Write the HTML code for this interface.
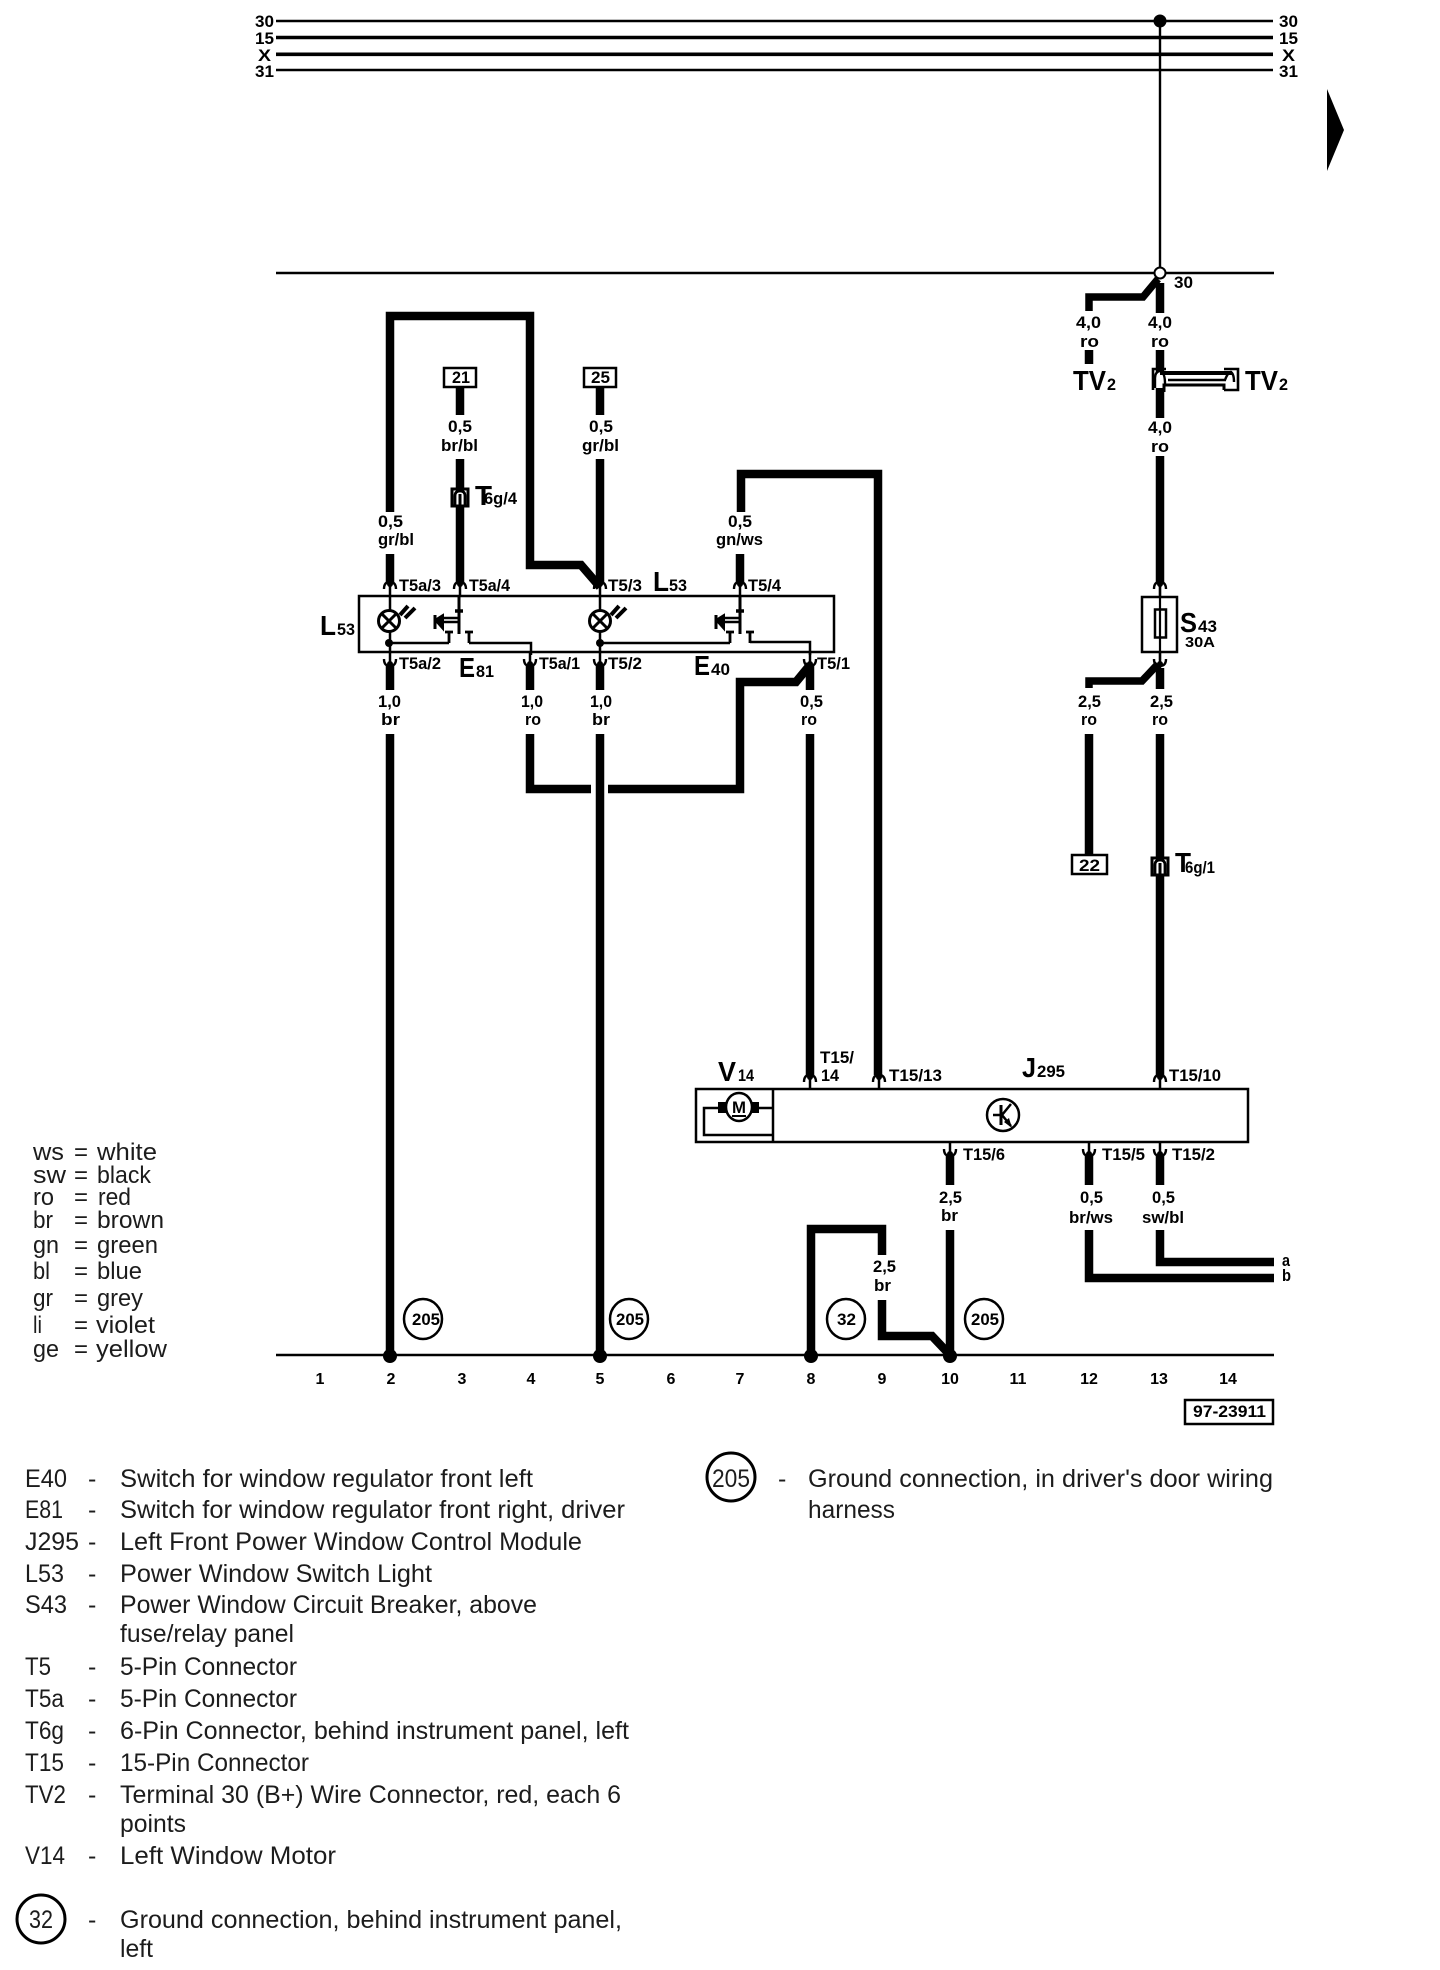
<!DOCTYPE html>
<html><head><meta charset="utf-8"><title>Wiring diagram</title>
<style>
html,body{margin:0;padding:0;background:#fff}
svg{display:block}
text{font-family:"Liberation Sans",sans-serif;fill:#000}
.b{font-weight:bold;font-size:17px}
.s{font-weight:bold;font-size:17px}
.L{font-weight:bold;font-size:28px}
.r{font-size:25px}
.r text,.k text{fill:#1c1c1c}
.k{font-size:24px}
.w{fill:none;stroke:#000;stroke-width:8.5;stroke-linejoin:miter}
.t{fill:none;stroke:#000;stroke-width:2.5}
</style></head><body>
<svg xmlns="http://www.w3.org/2000/svg" width="1440" height="1970" viewBox="0 0 1440 1970">
<defs>
<g id="fu"><path d="M-6,8Q-6,1 0,1Q6,1 6,8" fill="none" stroke="#000" stroke-width="2.4"/><path d="M0,-1V15" stroke="#000" stroke-width="2.5"/><circle cx="0" cy="3" r="3"/></g>
<g id="fd"><path d="M-6,-8Q-6,-1 0,-1Q6,-1 6,-8" fill="none" stroke="#000" stroke-width="2.4"/><path d="M0,1V-15" stroke="#000" stroke-width="2.5"/><circle cx="0" cy="-3" r="3"/></g>
<g id="lamp"><ellipse cx="0" cy="0" rx="10.5" ry="10.5" fill="#fff" stroke="#000" stroke-width="3"/><path d="M-7,-7L7,7M7,-7L-7,7" stroke="#000" stroke-width="3"/><path d="M11,-6L19,-15M16,-3L26,-13" stroke="#000" stroke-width="4"/></g>
<g id="sw"><path d="M0,-26V12" stroke="#000" stroke-width="3"/><path d="M-4,-11H4" stroke="#000" stroke-width="3.5"/><path d="M0,-4H-16M0,0H-16" stroke="#000" stroke-width="2.4"/><path d="M-16,-7L-24,-2L-16,7Z" stroke="#000" stroke-width="2"/><path d="M-24,-7V7" stroke="#000" stroke-width="3"/><path d="M-14,10H-6M-10,10V21M6,10H14M10,10V21" stroke="#000" stroke-width="2.8" fill="none"/></g>
<g id="tc"><rect x="-8" y="-8" width="16" height="17" fill="#fff" stroke="#000" stroke-width="3"/><path d="M-5,8V-1Q-5,-6 0,-6Q5,-6 5,-1V8" fill="none" stroke="#000" stroke-width="2.8"/><path d="M0,-3V8" stroke="#000" stroke-width="3"/></g>
</defs>

<!-- bus lines -->
<path d="M276,21H1273M276,70H1273" stroke="#000" stroke-width="2.6"/>
<path d="M276,37.5H1273M276,54.3H1273" stroke="#000" stroke-width="3.6"/>
<path d="M1160,21V273" stroke="#000" stroke-width="2.4"/>
<circle cx="1160" cy="21" r="6.5"/>
<path d="M276,273H1274" stroke="#000" stroke-width="2.5"/>
<path d="M276,1355H1274" stroke="#000" stroke-width="2.5"/>
<path d="M1327,89L1344,130L1327,171Z"/>

<text class="b" x="255" y="27" textLength="19" lengthAdjust="spacingAndGlyphs">30</text>
<text class="b" x="255" y="44" textLength="19" lengthAdjust="spacingAndGlyphs">15</text>
<text class="b" x="258" y="61" textLength="13" lengthAdjust="spacingAndGlyphs">X</text>
<text class="b" x="255" y="77" textLength="19" lengthAdjust="spacingAndGlyphs">31</text>
<text class="b" x="1279" y="27" textLength="19" lengthAdjust="spacingAndGlyphs">30</text>
<text class="b" x="1279" y="44" textLength="19" lengthAdjust="spacingAndGlyphs">15</text>
<text class="b" x="1282" y="61" textLength="13" lengthAdjust="spacingAndGlyphs">X</text>
<text class="b" x="1279" y="77" textLength="19" lengthAdjust="spacingAndGlyphs">31</text>
<text class="b" x="1174" y="288" textLength="19" lengthAdjust="spacingAndGlyphs">30</text>

<!-- wires -->
<path class="w" d="M390,554V582"/>
<path class="w" d="M390,512V316H530V565H581L600,587"/>
<path class="w" d="M460,387V415M460,459V582"/>
<path class="w" d="M600,387V415M600,459V582"/>
<path class="w" d="M740,554V582"/>
<path class="w" d="M741,512V474H878V1075"/>
<path class="w" style="stroke-width:7.5" d="M1089,311V297H1143L1158,279"/>
<path class="w" d="M1160,283V313M1160,350V372M1160,388V418M1160,456V583"/>
<path class="w" d="M1089,350V364"/>
<path class="w" d="M390,666V690M390,734V1355"/>
<path class="w" d="M530,666V690"/>
<path class="w" d="M530,734V789H591"/>
<path class="w" d="M608,789H740V682H796L810,665"/>
<path class="w" d="M600,666V690M600,734V1355"/>
<path class="w" d="M810,664V690M810,734V1075"/>
<path class="w" d="M1160,668V689M1160,734V1075"/>
<path class="w" style="stroke-width:7.5" d="M1089,688V681H1142L1158,664"/>
<path class="w" d="M1089,734V854"/>
<path class="w" d="M950,1155V1185M950,1230V1355"/>
<path class="w" d="M1089,1155V1185M1089,1230V1278H1274"/>
<path class="w" d="M1160,1155V1185M1160,1230V1262H1274"/>
<path class="w" d="M811,1355V1229H882V1255M882,1300V1336H932L950,1355"/>
<circle cx="390" cy="1356" r="7"/><circle cx="600" cy="1356" r="7"/><circle cx="811" cy="1356" r="7"/><circle cx="950" cy="1356" r="7"/>
<circle cx="1160" cy="273" r="5.5" fill="#fff" stroke="#000" stroke-width="2"/>

<!-- numbered boxes -->
<rect x="444" y="368" width="32" height="19" class="t" fill="#fff"/>
<rect x="584" y="368" width="32" height="19" class="t" fill="#fff"/>
<rect x="1072" y="855" width="35" height="19" class="t" fill="#fff"/>
<text class="b" x="452" y="383" textLength="18" lengthAdjust="spacingAndGlyphs">21</text>
<text class="b" x="591" y="383" textLength="19" lengthAdjust="spacingAndGlyphs">25</text>
<text class="b" x="1079" y="871" textLength="21" lengthAdjust="spacingAndGlyphs">22</text>

<!-- wire labels -->
<text class="s" x="378" y="527" textLength="25" lengthAdjust="spacingAndGlyphs">0,5</text>
<text class="s" x="378" y="545" textLength="36" lengthAdjust="spacingAndGlyphs">gr/bl</text>
<text class="s" x="448" y="432" textLength="24" lengthAdjust="spacingAndGlyphs">0,5</text>
<text class="s" x="441" y="451" textLength="37" lengthAdjust="spacingAndGlyphs">br/bl</text>
<text class="s" x="589" y="432" textLength="24" lengthAdjust="spacingAndGlyphs">0,5</text>
<text class="s" x="582" y="451" textLength="37" lengthAdjust="spacingAndGlyphs">gr/bl</text>
<text class="s" x="728" y="527" textLength="24" lengthAdjust="spacingAndGlyphs">0,5</text>
<text class="s" x="716" y="545" textLength="47" lengthAdjust="spacingAndGlyphs">gn/ws</text>
<text class="s" x="1076" y="328" textLength="25" lengthAdjust="spacingAndGlyphs">4,0</text>
<text class="s" x="1080" y="347" textLength="19" lengthAdjust="spacingAndGlyphs">ro</text>
<text class="s" x="1148" y="328" textLength="24" lengthAdjust="spacingAndGlyphs">4,0</text>
<text class="s" x="1151" y="347" textLength="18" lengthAdjust="spacingAndGlyphs">ro</text>
<text class="s" x="1148" y="433" textLength="24" lengthAdjust="spacingAndGlyphs">4,0</text>
<text class="s" x="1151" y="452" textLength="18" lengthAdjust="spacingAndGlyphs">ro</text>
<text class="s" x="378" y="707" textLength="23" lengthAdjust="spacingAndGlyphs">1,0</text>
<text class="s" x="381" y="725" textLength="19" lengthAdjust="spacingAndGlyphs">br</text>
<text class="s" x="521" y="707" textLength="22" lengthAdjust="spacingAndGlyphs">1,0</text>
<text class="s" x="525" y="725" textLength="16" lengthAdjust="spacingAndGlyphs">ro</text>
<text class="s" x="590" y="707" textLength="22" lengthAdjust="spacingAndGlyphs">1,0</text>
<text class="s" x="592" y="725" textLength="18" lengthAdjust="spacingAndGlyphs">br</text>
<text class="s" x="800" y="707" textLength="23" lengthAdjust="spacingAndGlyphs">0,5</text>
<text class="s" x="801" y="725" textLength="16" lengthAdjust="spacingAndGlyphs">ro</text>
<text class="s" x="1078" y="707" textLength="23" lengthAdjust="spacingAndGlyphs">2,5</text>
<text class="s" x="1081" y="725" textLength="16" lengthAdjust="spacingAndGlyphs">ro</text>
<text class="s" x="1150" y="707" textLength="23" lengthAdjust="spacingAndGlyphs">2,5</text>
<text class="s" x="1152" y="725" textLength="16" lengthAdjust="spacingAndGlyphs">ro</text>
<text class="s" x="939" y="1203" textLength="23" lengthAdjust="spacingAndGlyphs">2,5</text>
<text class="s" x="941" y="1221" textLength="17" lengthAdjust="spacingAndGlyphs">br</text>
<text class="s" x="1080" y="1203" textLength="23" lengthAdjust="spacingAndGlyphs">0,5</text>
<text class="s" x="1069" y="1223" textLength="44" lengthAdjust="spacingAndGlyphs">br/ws</text>
<text class="s" x="1152" y="1203" textLength="23" lengthAdjust="spacingAndGlyphs">0,5</text>
<text class="s" x="1142" y="1223" textLength="42" lengthAdjust="spacingAndGlyphs">sw/bl</text>
<text class="s" x="873" y="1272" textLength="23" lengthAdjust="spacingAndGlyphs">2,5</text>
<text class="s" x="874" y="1291" textLength="17" lengthAdjust="spacingAndGlyphs">br</text>
<text class="s" x="1282" y="1266" textLength="8" lengthAdjust="spacingAndGlyphs">a</text>
<text class="s" x="1282" y="1281" textLength="9" lengthAdjust="spacingAndGlyphs">b</text>

<!-- L53 switch box -->
<rect x="359" y="596" width="475" height="56" class="t"/>
<use href="#fu" x="390" y="581"/><use href="#fu" x="460" y="581"/><use href="#fu" x="600" y="581"/><use href="#fu" x="740" y="581"/>
<use href="#fd" x="390" y="667"/><use href="#fd" x="530" y="667"/><use href="#fd" x="600" y="667"/><use href="#fd" x="810" y="667"/>
<path d="M390,596V652M600,596V652" stroke="#000" stroke-width="2.5"/>
<use href="#lamp" x="389" y="621"/><use href="#lamp" x="600" y="621"/>
<use href="#sw" x="459" y="622"/><use href="#sw" x="740" y="622"/>
<path class="t" d="M389,643H449M469,643H531V655M600,643H730M750,642H810V655"/>
<circle cx="389" cy="643" r="4"/><circle cx="600" cy="643" r="4"/>

<text class="b" x="399" y="591" textLength="42" lengthAdjust="spacingAndGlyphs">T5a/3</text>
<text class="b" x="469" y="591" textLength="41" lengthAdjust="spacingAndGlyphs">T5a/4</text>
<text class="b" x="608" y="591" textLength="34" lengthAdjust="spacingAndGlyphs">T5/3</text>
<text class="b" x="748" y="591" textLength="33" lengthAdjust="spacingAndGlyphs">T5/4</text>
<text class="b" x="399" y="669" textLength="42" lengthAdjust="spacingAndGlyphs">T5a/2</text>
<text class="b" x="539" y="669" textLength="41" lengthAdjust="spacingAndGlyphs">T5a/1</text>
<text class="b" x="608" y="669" textLength="34" lengthAdjust="spacingAndGlyphs">T5/2</text>
<text class="b" x="817" y="669" textLength="33" lengthAdjust="spacingAndGlyphs">T5/1</text>

<text class="L" x="653" y="591" textLength="16" lengthAdjust="spacingAndGlyphs">L</text>
<text class="b" x="669" y="591" textLength="18" lengthAdjust="spacingAndGlyphs">53</text>
<text class="L" x="320" y="635" textLength="16" lengthAdjust="spacingAndGlyphs">L</text>
<text class="b" x="337" y="635" textLength="18" lengthAdjust="spacingAndGlyphs">53</text>
<text class="L" x="459" y="677" textLength="16" lengthAdjust="spacingAndGlyphs">E</text>
<text class="b" x="476" y="677" textLength="18" lengthAdjust="spacingAndGlyphs">81</text>
<text class="L" x="694" y="675" textLength="16" lengthAdjust="spacingAndGlyphs">E</text>
<text class="b" x="711" y="675" textLength="19" lengthAdjust="spacingAndGlyphs">40</text>

<!-- T6g -->
<use href="#tc" x="460" y="497"/>
<text class="L" x="475" y="505" textLength="17" lengthAdjust="spacingAndGlyphs">T</text>
<text class="b" x="484" y="504" textLength="33" lengthAdjust="spacingAndGlyphs">6g/4</text>
<use href="#tc" x="1160" y="866"/>
<text class="L" x="1175" y="872" textLength="16" lengthAdjust="spacingAndGlyphs">T</text>
<text class="b" x="1185" y="873" textLength="30" lengthAdjust="spacingAndGlyphs">6g/1</text>

<!-- TV2 -->
<path d="M1153,390V369H1166M1224,369H1238V390H1224" fill="none" stroke="#000" stroke-width="2.6"/>
<path d="M1160,373H1232" stroke="#000" stroke-width="4"/>
<path d="M1168,380H1226" stroke="#000" stroke-width="2.6"/>
<path d="M1164,392V385H1224V390" fill="none" stroke="#000" stroke-width="3"/>
<path d="M1155,388V378Q1155,372 1160,371Q1165,372 1165,384" fill="none" stroke="#000" stroke-width="2.4"/>
<path d="M1225,380Q1228,372 1231,372Q1234,374 1234,382" fill="none" stroke="#000" stroke-width="2.4"/>
<text class="L" x="1073" y="390" textLength="33" lengthAdjust="spacingAndGlyphs">TV</text>
<text class="b" x="1107" y="390" textLength="9" lengthAdjust="spacingAndGlyphs">2</text>
<text class="L" x="1245" y="390" textLength="33" lengthAdjust="spacingAndGlyphs">TV</text>
<text class="b" x="1279" y="390" textLength="9" lengthAdjust="spacingAndGlyphs">2</text>

<!-- S43 -->
<rect x="1142" y="597" width="35" height="55" class="t"/>
<use href="#fu" x="1160" y="581"/><use href="#fd" x="1160" y="667"/>
<path d="M1160,587V660" stroke="#000" stroke-width="2.2"/>
<rect x="1155" y="609.5" width="11" height="28" class="t" fill="#fff"/>
<path d="M1160,610V637" stroke="#000" stroke-width="1"/>
<text class="L" x="1180" y="632" textLength="17" lengthAdjust="spacingAndGlyphs">S</text>
<text class="b" x="1198" y="632" textLength="19" lengthAdjust="spacingAndGlyphs">43</text>
<text class="b" x="1185" y="647" textLength="30" lengthAdjust="spacingAndGlyphs" style="font-size:15px">30A</text>

<!-- J295 / V14 -->
<rect x="696" y="1089" width="552" height="53" class="t"/>
<path d="M773,1089V1142" stroke="#000" stroke-width="2.5"/>
<use href="#fu" x="810" y="1074"/><use href="#fu" x="879" y="1074"/><use href="#fu" x="1160" y="1074"/>
<use href="#fd" x="950" y="1157"/><use href="#fd" x="1089" y="1157"/><use href="#fd" x="1160" y="1157"/>
<ellipse cx="739" cy="1107" rx="13" ry="14" fill="#fff" stroke="#000" stroke-width="2.5"/>
<rect x="718" y="1102" width="9" height="11"/><rect x="751" y="1102" width="8" height="11"/>
<path class="t" d="M759,1108H773M718,1108H704V1135H773"/>
<path d="M732,1116H746" stroke="#000" stroke-width="2"/>
<text class="b" x="732" y="1113" textLength="14" lengthAdjust="spacingAndGlyphs">M</text>
<ellipse cx="1003" cy="1115" rx="16" ry="16" class="t"/>
<path d="M1001,1105V1125" stroke="#000" stroke-width="3"/>
<path d="M993,1115H1001M1011,1104L1002,1115L1011,1126" fill="none" stroke="#000" stroke-width="2.5"/>
<path d="M1012,1128L1004,1122L1009,1118Z"/>

<text class="L" x="718" y="1081" textLength="18" lengthAdjust="spacingAndGlyphs">V</text>
<text class="b" x="738" y="1081" textLength="16" lengthAdjust="spacingAndGlyphs">14</text>
<text class="L" x="1022" y="1077" textLength="14" lengthAdjust="spacingAndGlyphs">J</text>
<text class="b" x="1037" y="1077" textLength="28" lengthAdjust="spacingAndGlyphs">295</text>
<text class="b" x="820" y="1063" textLength="34" lengthAdjust="spacingAndGlyphs">T15/</text>
<text class="b" x="821" y="1081" textLength="18" lengthAdjust="spacingAndGlyphs">14</text>
<text class="b" x="889" y="1081" textLength="53" lengthAdjust="spacingAndGlyphs">T15/13</text>
<text class="b" x="1169" y="1081" textLength="52" lengthAdjust="spacingAndGlyphs">T15/10</text>
<text class="b" x="963" y="1160" textLength="42" lengthAdjust="spacingAndGlyphs">T15/6</text>
<text class="b" x="1102" y="1160" textLength="43" lengthAdjust="spacingAndGlyphs">T15/5</text>
<text class="b" x="1172" y="1160" textLength="43" lengthAdjust="spacingAndGlyphs">T15/2</text>

<!-- ground circles -->
<ellipse cx="423" cy="1319" rx="19" ry="20" class="t"/><text class="b" x="412" y="1325" textLength="28" lengthAdjust="spacingAndGlyphs">205</text>
<ellipse cx="629" cy="1319" rx="19" ry="20" class="t"/><text class="b" x="616" y="1325" textLength="28" lengthAdjust="spacingAndGlyphs">205</text>
<ellipse cx="846" cy="1319" rx="19" ry="20" class="t"/><text class="b" x="837" y="1325" textLength="19" lengthAdjust="spacingAndGlyphs">32</text>
<ellipse cx="984" cy="1319" rx="19" ry="20" class="t"/><text class="b" x="971" y="1325" textLength="28" lengthAdjust="spacingAndGlyphs">205</text>

<!-- column numbers -->
<g style="font-weight:bold;font-size:16px" text-anchor="middle">
<text x="320" y="1384">1</text><text x="391" y="1384">2</text><text x="462" y="1384">3</text><text x="531" y="1384">4</text><text x="600" y="1384">5</text><text x="671" y="1384">6</text><text x="740" y="1384">7</text><text x="811" y="1384">8</text><text x="882" y="1384">9</text><text x="950" y="1384">10</text><text x="1018" y="1384">11</text><text x="1089" y="1384">12</text><text x="1159" y="1384">13</text><text x="1228" y="1384">14</text>
</g>
<rect x="1185" y="1400" width="88" height="24" class="t"/>
<text class="b" x="1193" y="1417" textLength="73" lengthAdjust="spacingAndGlyphs">97-23911</text>

<!-- colour key -->
<g class="k">
<text x="33" y="1160" textLength="31" lengthAdjust="spacingAndGlyphs">ws</text><text x="74" y="1160">=</text><text x="97" y="1160" textLength="60" lengthAdjust="spacingAndGlyphs">white</text>
<text x="33" y="1183" textLength="33" lengthAdjust="spacingAndGlyphs">sw</text><text x="74" y="1183">=</text><text x="97" y="1183" textLength="54" lengthAdjust="spacingAndGlyphs">black</text>
<text x="33" y="1205" textLength="21" lengthAdjust="spacingAndGlyphs">ro</text><text x="74" y="1205">=</text><text x="98" y="1205" textLength="33" lengthAdjust="spacingAndGlyphs">red</text>
<text x="33" y="1228" textLength="20" lengthAdjust="spacingAndGlyphs">br</text><text x="74" y="1228">=</text><text x="97" y="1228" textLength="67" lengthAdjust="spacingAndGlyphs">brown</text>
<text x="33" y="1253" textLength="26" lengthAdjust="spacingAndGlyphs">gn</text><text x="74" y="1253">=</text><text x="97" y="1253" textLength="61" lengthAdjust="spacingAndGlyphs">green</text>
<text x="33" y="1279" textLength="17" lengthAdjust="spacingAndGlyphs">bl</text><text x="74" y="1279">=</text><text x="97" y="1279" textLength="45" lengthAdjust="spacingAndGlyphs">blue</text>
<text x="33" y="1306" textLength="20" lengthAdjust="spacingAndGlyphs">gr</text><text x="74" y="1306">=</text><text x="97" y="1306" textLength="46" lengthAdjust="spacingAndGlyphs">grey</text>
<text x="33" y="1333" textLength="9" lengthAdjust="spacingAndGlyphs">li</text><text x="74" y="1333">=</text><text x="96" y="1333" textLength="59" lengthAdjust="spacingAndGlyphs">violet</text>
<text x="33" y="1357" textLength="26" lengthAdjust="spacingAndGlyphs">ge</text><text x="74" y="1357">=</text><text x="96" y="1357" textLength="71" lengthAdjust="spacingAndGlyphs">yellow</text>
</g>

<!-- parts list -->
<g class="r">
<text x="25" y="1487" textLength="42" lengthAdjust="spacingAndGlyphs">E40</text><text x="88" y="1487">-</text><text x="120" y="1487" textLength="413" lengthAdjust="spacingAndGlyphs">Switch for window regulator front left</text>
<text x="25" y="1518" textLength="38" lengthAdjust="spacingAndGlyphs">E81</text><text x="88" y="1518">-</text><text x="120" y="1518" textLength="505" lengthAdjust="spacingAndGlyphs">Switch for window regulator front right, driver</text>
<text x="25" y="1550" textLength="54" lengthAdjust="spacingAndGlyphs">J295</text><text x="88" y="1550">-</text><text x="120" y="1550" textLength="462" lengthAdjust="spacingAndGlyphs">Left Front Power Window Control Module</text>
<text x="25" y="1582" textLength="39" lengthAdjust="spacingAndGlyphs">L53</text><text x="88" y="1582">-</text><text x="120" y="1582" textLength="312" lengthAdjust="spacingAndGlyphs">Power Window Switch Light</text>
<text x="25" y="1613" textLength="42" lengthAdjust="spacingAndGlyphs">S43</text><text x="88" y="1613">-</text><text x="120" y="1613" textLength="417" lengthAdjust="spacingAndGlyphs">Power Window Circuit Breaker, above</text>
<text x="120" y="1642" textLength="174" lengthAdjust="spacingAndGlyphs">fuse/relay panel</text>
<text x="25" y="1675" textLength="26" lengthAdjust="spacingAndGlyphs">T5</text><text x="88" y="1675">-</text><text x="120" y="1675" textLength="177" lengthAdjust="spacingAndGlyphs">5-Pin Connector</text>
<text x="25" y="1707" textLength="39" lengthAdjust="spacingAndGlyphs">T5a</text><text x="88" y="1707">-</text><text x="120" y="1707" textLength="177" lengthAdjust="spacingAndGlyphs">5-Pin Connector</text>
<text x="25" y="1739" textLength="39" lengthAdjust="spacingAndGlyphs">T6g</text><text x="88" y="1739">-</text><text x="120" y="1739" textLength="509" lengthAdjust="spacingAndGlyphs">6-Pin Connector, behind instrument panel, left</text>
<text x="25" y="1771" textLength="39" lengthAdjust="spacingAndGlyphs">T15</text><text x="88" y="1771">-</text><text x="120" y="1771" textLength="189" lengthAdjust="spacingAndGlyphs">15-Pin Connector</text>
<text x="25" y="1803" textLength="41" lengthAdjust="spacingAndGlyphs">TV2</text><text x="88" y="1803">-</text><text x="120" y="1803" textLength="501" lengthAdjust="spacingAndGlyphs">Terminal 30 (B+) Wire Connector, red, each 6</text>
<text x="120" y="1832" textLength="66" lengthAdjust="spacingAndGlyphs">points</text>
<text x="25" y="1864" textLength="40" lengthAdjust="spacingAndGlyphs">V14</text><text x="88" y="1864">-</text><text x="120" y="1864" textLength="216" lengthAdjust="spacingAndGlyphs">Left Window Motor</text>
<text x="29" y="1928" textLength="24" lengthAdjust="spacingAndGlyphs">32</text><text x="88" y="1928">-</text><text x="120" y="1928" textLength="502" lengthAdjust="spacingAndGlyphs">Ground connection, behind instrument panel,</text>
<text x="120" y="1957" textLength="33" lengthAdjust="spacingAndGlyphs">left</text>
<text x="712" y="1487" textLength="38" lengthAdjust="spacingAndGlyphs">205</text><text x="778" y="1487">-</text><text x="808" y="1487" textLength="465" lengthAdjust="spacingAndGlyphs">Ground connection, in driver's door wiring</text>
<text x="808" y="1518" textLength="87" lengthAdjust="spacingAndGlyphs">harness</text>
</g>
<ellipse cx="41" cy="1919" rx="24" ry="24" fill="none" stroke="#000" stroke-width="3"/>
<ellipse cx="731" cy="1477" rx="24" ry="24" fill="none" stroke="#000" stroke-width="3"/>
</svg>
</body></html>
